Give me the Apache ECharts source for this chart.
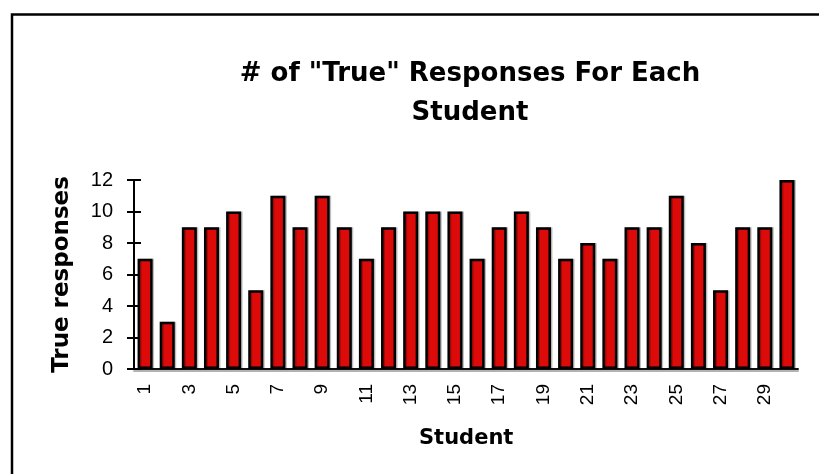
<!DOCTYPE html>
<html>
<head>
<meta charset="utf-8">
<script src="https://cdn.jsdelivr.net/npm/echarts@6/dist/echarts.min.js"></script>
<style>
  html, body { margin: 0; padding: 0; background: #fff; }
  #chart { width: 819px; height: 474px; }
</style>
</head>
<body>
<div id="chart"></div>
<script>
const students = ['1','2','3','4','5','6','7','8','9','10','11','12','13','14','15','16','17','18','19','20','21','22','23','24','25','26','27','28','29','30'];
const trueResponses = [7,3,9,9,10,5,11,9,11,9,7,9,10,10,10,7,9,10,9,7,8,7,9,9,11,8,5,9,9,12];
const yTicks = [0,2,4,6,8,10,12];

const chart = echarts.init(document.getElementById('chart'), null, { renderer: 'canvas' });

const LABEL_FONT = 'Arial';

const option = {
  backgroundColor: '#ffffff',
  animation: false,
  title: {
    text: '# of "True" Responses For Each\nStudent',
    left: 465,
    textAlign: 'center',
    top: 50,
    textStyle: {
      fontFamily: 'DejaVu Sans',
      fontWeight: 'bold',
      fontSize: 26,
      lineHeight: 39,
      color: '#000'
    }
  },
  graphic: [
    {
      type: 'rect',
      shape: { x: 12, y: 14.5, width: 840, height: 500 },
      style: { fill: 'none', stroke: '#000', lineWidth: 2.5 },
      silent: true
    },
    {
      type: 'text',
      left: 419,
      top: 428,
      style: {
        text: 'Student',
        fontFamily: 'DejaVu Sans',
        fontWeight: 'bold',
        fontSize: 21,
        fill: '#000'
      }
    }
  ],
  grid: { left: 134, right: 21, top: 180, bottom: 105 },
  xAxis: {
    type: 'category',
    data: students,
    axisLine: { show: true, lineStyle: { color: '#111', width: 2, shadowColor: 'rgba(0,0,0,0.3)', shadowOffsetY: 2 } },
    axisTick: { show: false },
    axisLabel: {
      interval: 1,
      rotate: 90,
      margin: 15,
      fontFamily: LABEL_FONT,
      fontSize: 19,
      color: '#000'
    },
    splitLine: { show: false }
  },
  yAxis: [
    {
      type: 'value',
      min: 0,
      max: 12,
      interval: 2,
      axisLine: { show: true, lineStyle: { color: '#000', width: 2 } },
      axisTick: { show: true, inside: false, length: 7, lineStyle: { color: '#000', width: 2 } },
      axisLabel: {
        margin: 21,
        fontFamily: LABEL_FONT,
        fontSize: 20,
        color: '#000',
        formatter: function (v) { return yTicks.indexOf(v) >= 0 ? String(v) : ''; }
      },
      splitLine: { show: false },
      name: 'True responses',
      nameLocation: 'middle',
      nameGap: 60,
      nameRotate: 90,
      nameTextStyle: {
        fontFamily: 'DejaVu Sans',
        fontWeight: 'bold',
        fontSize: 23,
        color: '#000'
      }
    },
    {
      type: 'value',
      position: 'left',
      min: 0,
      max: 12,
      interval: 2,
      axisLine: { show: false },
      axisTick: { show: true, inside: true, length: 7, lineStyle: { color: '#000', width: 2 } },
      axisLabel: { show: false },
      splitLine: { show: false }
    }
  ],
  series: [
    {
      type: 'bar',
      yAxisIndex: 0,
      data: trueResponses,
      barWidth: 15,
      itemStyle: {
        color: '#dd0a0a',
        borderColor: '#000',
        borderWidth: 2.5,
        shadowColor: 'rgba(0,0,0,0.25)',
        shadowOffsetX: 1.5,
        shadowOffsetY: 0,
        shadowBlur: 0
      }
    }
  ]
};

chart.setOption(option);
</script>
</body>
</html>
